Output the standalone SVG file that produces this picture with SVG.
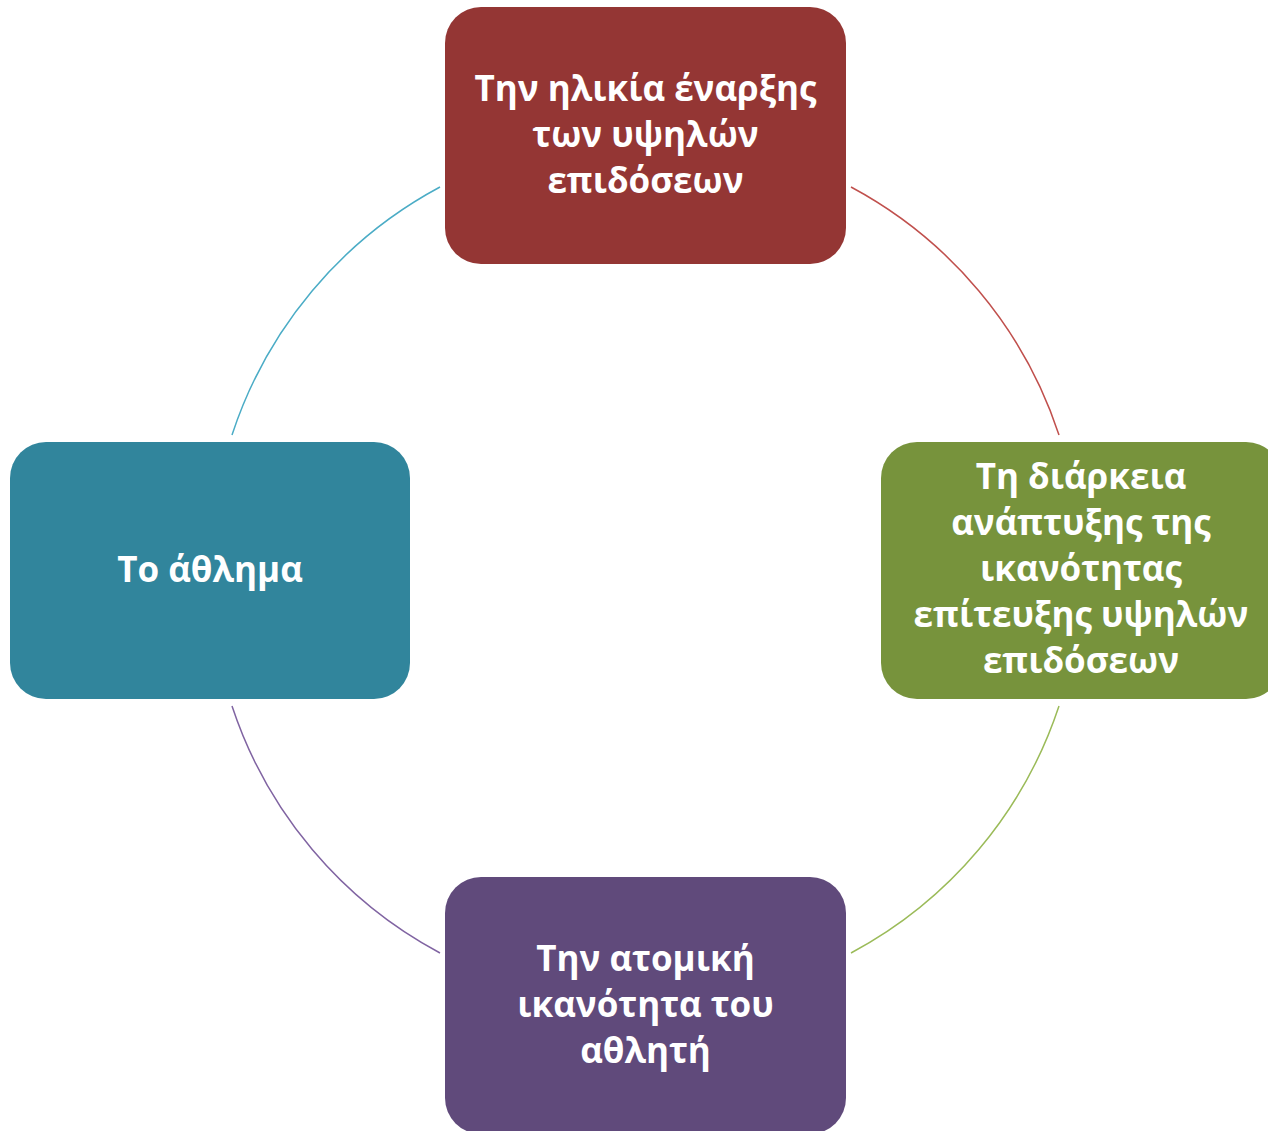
<svg xmlns="http://www.w3.org/2000/svg" width="1268" height="1131" viewBox="0 0 1268 1131">
<style>
.lbl{font-family:"Open Sans","Noto Sans","Liberation Sans",sans-serif;font-weight:bold;font-size:35px;fill:#FFFFFF;text-anchor:middle}
.arc{fill:none;stroke-width:1.5}
</style>
<rect width="1268" height="1131" fill="#FFFFFF"/>
<g id="connectors">
<path class="arc" stroke="#C0504D" d="M851,187 A435,435 0 0 1 1059,435"/>
<path class="arc" stroke="#9BBB59" d="M1059,706 A435,435 0 0 1 851,953"/>
<path class="arc" stroke="#8064A2" d="M440,953 A435,435 0 0 1 232,706"/>
<path class="arc" stroke="#4BACC6" d="M232,435 A435,435 0 0 1 440,187"/>
</g>
<g id="node-top">
<rect x="445" y="7" width="401" height="257" rx="36" fill="#943634"/>
<text class="lbl" x="645.5" y="101">Την ηλικία έναρξης</text>
<text class="lbl" x="645.5" y="147">των υψηλών</text>
<text class="lbl" x="645.5" y="193">επιδόσεων</text>
</g>
<g id="node-right">
<rect x="881" y="442" width="401" height="257" rx="36" fill="#77933C"/>
<text class="lbl" x="1081" y="489">Τη διάρκεια</text>
<text class="lbl" x="1081" y="535">ανάπτυξης της</text>
<text class="lbl" x="1081" y="581">ικανότητας</text>
<text class="lbl" x="1081" y="627">επίτευξης υψηλών</text>
<text class="lbl" x="1081" y="673">επιδόσεων</text>
</g>
<g id="node-bottom">
<rect x="445" y="877" width="401" height="257" rx="36" fill="#604A7B"/>
<text class="lbl" x="645.5" y="971">Την ατομική</text>
<text class="lbl" x="645.5" y="1017">ικανότητα του</text>
<text class="lbl" x="645.5" y="1063">αθλητή</text>
</g>
<g id="node-left">
<rect x="10" y="442" width="400" height="257" rx="36" fill="#31859C"/>
<text class="lbl" x="210" y="582">Το άθλημα</text>
</g>
</svg>
